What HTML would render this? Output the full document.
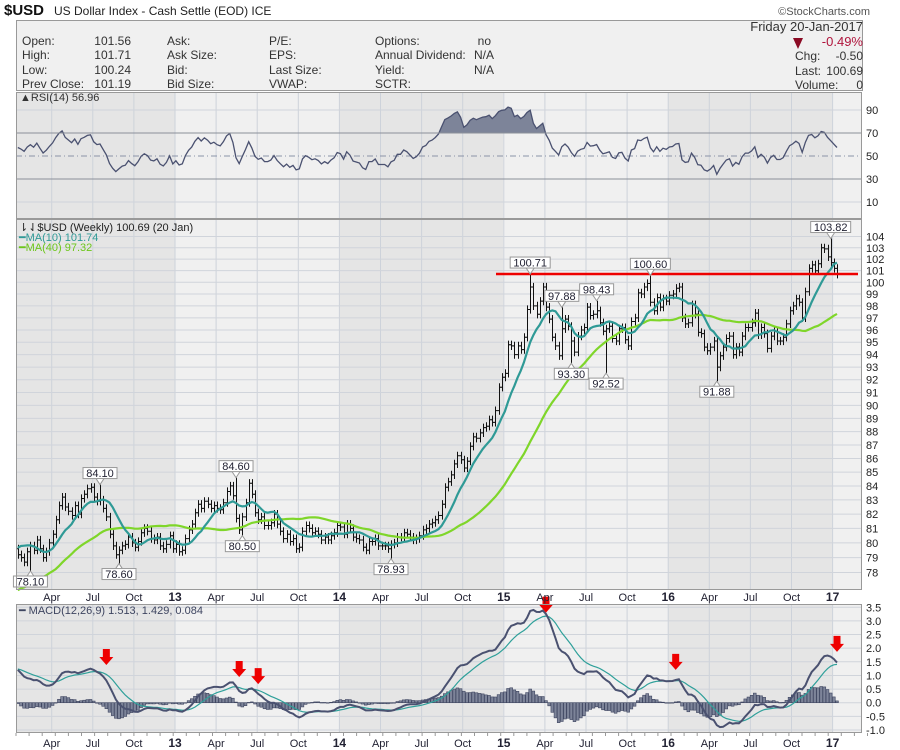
<!DOCTYPE html>
<html><head><meta charset="utf-8"><title>$USD US Dollar Index – weekly chart with RSI and MACD</title>
<style>
html,body{margin:0;padding:0;background:#fff;}
svg{display:block;font-family:"Liberation Sans Narrow","Liberation Sans",sans-serif;}
</style></head>
<body>
<svg id="chart" width="900" height="750" viewBox="0 0 900 750" xmlns="http://www.w3.org/2000/svg">
<g font-size="12" fill="#333">
  <text x="4" y="15" font-size="15" font-weight="bold" fill="#111">$USD</text>
  <text x="54" y="15" font-size="12" fill="#222">US Dollar Index - Cash Settle (EOD) ICE</text>
  <text x="870" y="15" font-size="11" fill="#555" text-anchor="end">©StockCharts.com</text>
  <rect x="16.5" y="20.5" width="846" height="70" fill="#f0f0f0" stroke="#999"/>
  <text x="22" y="45">Open:</text><text x="131" y="45" text-anchor="end">101.56</text>
  <text x="22" y="59">High:</text><text x="131" y="59" text-anchor="end">101.71</text>
  <text x="22" y="74">Low:</text><text x="131" y="74" text-anchor="end">100.24</text>
  <text x="22" y="88">Prev Close:</text><text x="131" y="88" text-anchor="end">101.19</text>
  <text x="167" y="45">Ask:</text>
  <text x="167" y="59">Ask Size:</text>
  <text x="167" y="74">Bid:</text>
  <text x="167" y="88">Bid Size:</text>
  <text x="269" y="45">P/E:</text>
  <text x="269" y="59">EPS:</text>
  <text x="269" y="74">Last Size:</text>
  <text x="269" y="88">VWAP:</text>
  <text x="375" y="45">Options:</text><text x="491" y="45" text-anchor="end">no</text>
  <text x="375" y="59">Annual Dividend:</text><text x="474" y="59">N/A</text>
  <text x="375" y="74">Yield:</text><text x="474" y="74">N/A</text>
  <text x="375" y="88">SCTR:</text>
  <text x="863" y="31" text-anchor="end" font-size="13">Friday  20-Jan-2017</text>
  <path d="M793,38 L803,38 L798,49 Z" fill="#8b0a24"/>
  <text x="863" y="46" text-anchor="end" font-size="13" fill="#b0143c">-0.49%</text>
  <text x="795" y="60">Chg:</text><text x="863" y="60" text-anchor="end">-0.50</text>
  <text x="795" y="75">Last:</text><text x="863" y="75" text-anchor="end">100.69</text>
  <text x="795" y="89">Volume:</text><text x="863" y="89" text-anchor="end">0</text>
</g>
<g id="layers"></g>
</svg>
<script>
// ---- data (weekly closes; first 39 values are pre-chart warm-up weeks) ----
const warmupCloses = [73.0,74.5,75.5,75.7,75.5,74.8,74.3,75.0,75.2,74.6,74.3,75.5,75.9,74.6,74.0,74.5,74.5,74.0,74.1,74.6,76.5,77.5,78.5,78.5,78.2,77.1,76.3,77.2,77.9,78.4,79.2,77.8,78.5,79.2,79.8,80.2,81.2,81.0,80.2];
const closes2012 = [79.6,79.2,79.0,78.7,79.4,79.8,79.5,80.2,79.6,79.0,79.4,80.0,80.6,81.6,82.6,83.2,82.5,82.2,81.9,82.6,82.0,83.1,83.4,83.8,83.9,83.2,82.9,83.0,82.4,81.8,80.6,79.8,79.2,79.5,79.8,79.9,80.4,80.0,79.7,80.1,80.7,81.0,80.8,80.3,80.2,80.4,79.8,79.6,79.9];
const closes2013 = [80.5,79.6,79.9,79.4,79.5,80.3,80.9,81.3,82.1,82.7,82.4,82.9,82.7,82.4,82.6,82.4,82.3,82.8,83.6,84.0,83.3,81.7,80.9,81.8,82.8,84.2,83.4,82.1,81.6,81.8,81.2,81.2,81.4,82.0,81.3,80.8,80.3,80.6,80.1,80.3,79.6,79.7,80.8,81.2,81.0,80.7,80.8,80.6,80.2,80.4,80.2,80.5];
const closes2014 = [80.7,81.2,81.1,80.6,81.3,81.0,80.4,80.3,80.2,79.7,79.5,80.1,80.1,80.3,79.8,79.8,79.8,79.6,79.9,80.0,80.4,80.4,80.7,80.6,80.4,80.2,80.3,80.5,80.9,81.0,81.3,81.4,81.6,81.9,82.7,83.9,84.3,84.8,85.6,86.2,85.9,85.3,85.8,86.9,87.6,87.5,87.9,88.3,88.4,88.9,88.7,89.6];
const closes2015 = [91.4,92.2,92.5,94.8,94.7,94.0,94.7,94.4,95.4,97.7,99.6,98.0,97.3,98.4,99.6,97.9,96.9,95.4,94.7,93.9,96.1,96.9,96.3,95.1,94.2,95.5,96.0,96.2,97.9,97.2,97.3,97.6,96.6,95.9,96.1,96.3,95.3,95.1,96.1,96.2,95.2,94.7,96.7,97.0,99.1,99.0,99.6,99.9,98.3,97.6,98.7,97.9,98.6];
const closes2016 = [98.4,98.9,99.0,99.5,99.6,97.0,96.5,96.6,98.1,97.3,95.8,95.7,94.6,94.3,94.6,95.1,93.0,93.9,94.6,95.3,95.5,94.0,94.6,94.2,95.5,96.2,96.2,96.6,97.4,95.6,96.2,95.7,94.5,95.5,95.9,95.1,95.1,95.4,96.5,97.6,98.0,98.6,98.3,97.0,99.2,101.2,101.5,101.0,101.6,103.0,102.9,102.2];
const closes2017 = [101.7,101.2,100.69];
// annotated extremes: visible bar index, value, side
const annIndex = [5,27,33,70,72,119,163,173,176,184,187,201,222,258];
const annValue = [78.10,84.10,78.60,84.60,80.50,78.93,100.71,97.88,93.30,98.43,92.52,100.60,91.88,103.82];
const annHigh  = [0,1,0,1,0,0,1,1,0,1,0,1,0,1];
const resistanceLevel = 100.71;
const priceTicks = [78,79,80,81,82,83,84,85,86,87,88,89,90,91,92,93,94,95,96,97,98,99,100,101,102,103,104];
const rsiTicks = [90,70,50,30,10];
const macdTicks = [3.5,3.0,2.5,2.0,1.5,1.0,0.5,0.0,-0.5,-1.0];
const dateTickLabels = ['Apr','Jul','Oct','13','Apr','Jul','Oct','14','Apr','Jul','Oct','15','Apr','Jul','Oct','16','Apr','Jul','Oct','17'];
const dateTickYears  = [2012.25,2012.5,2012.75,2013,2013.25,2013.5,2013.75,2014,2014.25,2014.5,2014.75,2015,2015.25,2015.5,2015.75,2016,2016.25,2016.5,2016.75,2017];
const arrowBars = [29,71,77,168,209,260];
const arrowMacd = [0.87,0.43,0.17,2.79,0.69,1.35];

// ---- build series ----
const visible = [].concat(closes2012,closes2013,closes2014,closes2015,closes2016,closes2017);
const all = warmupCloses.concat(visible);
const W0 = warmupCloses.length, N = visible.length;

const NS='http://www.w3.org/2000/svg';
const root=document.getElementById('layers');
function mk(tag,attrs,parent){const e=document.createElementNS(NS,tag);for(const k in attrs)e.setAttribute(k,attrs[k]);(parent||root).appendChild(e);return e;}

// axes
const L=16, R=862;
const xBar=i=>837-(N-1-i)*3.163;
const xDate=fy=>175+(fy-2013)*164.4;
const yP=v=>282.3-1168*Math.log(v/100);
const yR=v=>156-(v-50)*1.15;
const yM=v=>702.7-27.26*v;

function sma(n){return all.map((_,i)=>{const s=Math.max(0,i-n+1);let t=0;for(let k=s;k<=i;k++)t+=all[k];return t/(i-s+1);});}
function ema(arr,n){const a=2/(n+1);const o=[];arr.forEach((v,i)=>o.push(i?o[i-1]+a*(v-o[i-1]):v));return o;}
const ma10=sma(10), ma40=sma(40);
const rsi=[];{let g=0,l=0;for(let i=0;i<all.length;i++){if(i==0){rsi.push(50);continue;}const d=all[i]-all[i-1];const up=Math.max(d,0),dn=Math.max(-d,0);if(i<=14){g+=up/14;l+=dn/14;}else{g=(g*13+up)/14;l=(l*13+dn)/14;}rsi.push(l==0?100:100-100/(1+g/l));}}
const e12=ema(all,12),e26=ema(all,26);const macd=all.map((v,i)=>e12[i]-e26[i]);const sig=ema(macd,9);const hist=macd.map((v,i)=>v-sig[i]);

// ---- panels ----
const panels=[{n:'rsi-panel',t:92,b:219},{n:'price-panel',t:219,b:590},{n:'macd-panel',t:604,b:733}];
const bands=[[L,175,'#e5e5e5'],[175,339,'#f0f0f0'],[339,503,'#e5e5e5'],[503,668,'#f0f0f0'],[668,832,'#e5e5e5'],[832,R,'#f0f0f0']];
panels.forEach(p=>{
  const g=mk('g',{});
  
  
  bands.forEach(b=>mk('rect',{x:b[0],y:p.t,width:b[1]-b[0],height:p.b-p.t,fill:b[2]},g));
  dateTickYears.forEach(fy=>{const x=xDate(fy);if(x>L&&x<R)mk('line',{x1:x,x2:x,y1:p.t,y2:p.b,stroke:'#cdd2da','stroke-width':1},g);});
  p.g=g;
});
// price grid
priceTicks.forEach(v=>{const y=yP(v);mk('line',{x1:L,x2:R,y1:y,y2:y,stroke:'#d0d4db'},panels[1].g);
  const t=mk('text',{x:866,y:y+4,'font-size':11,fill:'#222'});t.textContent=v;
  
  });
// rsi grid
rsiTicks.forEach(v=>{const y=yR(v);const strong=(v==70||v==30);
  mk('line',{x1:L,x2:R,y1:y,y2:y,stroke:strong?'#8a8f99':(v==50?'#8a93a8':'#d0d4db'),'stroke-dasharray':v==50?'6,3,1,3':'none'},panels[0].g);
  const t=mk('text',{x:866,y:y+4,'font-size':11,fill:'#222'});t.textContent=v;
  
  });
// macd grid
macdTicks.forEach(v=>{const y=yM(v);mk('line',{x1:L,x2:R,y1:y,y2:y,stroke:'#d0d4db'},panels[2].g);
  const t=mk('text',{x:866,y:y+4,'font-size':11,fill:'#222'});t.textContent=v.toFixed(1);
  
  });

function poly(arr,fy,attrs,name,parent){let d='';for(let i=0;i<N;i++){const x=xBar(i);if(x<L)continue;d+=(d?'L':'M')+x.toFixed(1)+','+fy(arr[i+W0]).toFixed(1);}
  const p=mk('path',Object.assign({d:d,fill:'none'},attrs),parent);return p;}

// RSI fill above 70 and line
{let d='';for(let i=0;i<N;i++){const x=xBar(i);if(x<L)continue;d+=(d?'L':'M')+x.toFixed(1)+','+Math.min(yR(rsi[i+W0]),yR(70)).toFixed(1);}
 d+='L'+xBar(N-1)+','+yR(70)+'L'+Math.max(L,xBar(0))+','+yR(70)+'Z';
 const f=mk('path',{d:d,fill:'#7d8499',stroke:'none'},panels[0].g);
 
 }
poly(rsi,yR,{stroke:'#4a5170','stroke-width':1.3},'rsi-line',panels[0].g);
mk('line',{x1:L,x2:R,y1:yR(70),y2:yR(70),stroke:'#8a8f99'},panels[0].g);

// price bars
const barsG=mk('g',{stroke:'#111','stroke-width':1},panels[1].g);


for(let i=0;i<N;i++){const x=Math.round(xBar(i))+0.5;if(x<L)continue;const c=all[i+W0],o=all[i+W0-1];
  let h=Math.max(o,c)*1.0035,l=Math.min(o,c)*0.9965;const a=annIndex.indexOf(i);if(a>=0){if(annHigh[a])h=annValue[a];else l=annValue[a];}
  const b=mk('path',{d:`M${x},${yP(h).toFixed(1)}V${yP(l).toFixed(1)}M${x-2},${yP(o).toFixed(1)}H${x}M${x},${yP(c).toFixed(1)}H${x+2}`},barsG);
  
  }
poly(ma40,yP,{stroke:'#7fd62a','stroke-width':2.2},'ma40-line',panels[1].g);
poly(ma10,yP,{stroke:'#2f9a96','stroke-width':2.2},'ma10-line',panels[1].g);
{const rl=mk('line',{x1:496,x2:858,y1:yP(resistanceLevel),y2:yP(resistanceLevel),stroke:'#ee0000','stroke-width':2.5},panels[1].g);
 
 }
// annotations
annIndex.forEach((bi,k)=>{const x=xBar(bi),v=annValue[k],up=annHigh[k];const yv=yP(v);const txt=v.toFixed(2);const w=txt.length*6+4;
  const g=mk('g',{},panels[1].g);
  
  
  const by=up?yv-16:yv+6;
  mk('path',{d:up?`M${x-4},${by+10}L${x},${yv}L${x+4},${by+10}`:`M${x-4},${by}L${x},${yv}L${x+4},${by}`,fill:'#fff',stroke:'#999'},g);
  mk('rect',{x:x-w/2,y:by-1,width:w,height:11,fill:'#fff',stroke:'#999'},g);
  const t=mk('text',{x:x,y:by+8.5,'font-size':11,'text-anchor':'middle',fill:'#223'},g);t.textContent=txt;});

// MACD histogram & lines
const hG=mk('g',{fill:'#7d8499',stroke:'#3e4560','stroke-width':0.6},panels[2].g);


for(let i=0;i<N;i++){const x=xBar(i);if(x<L)continue;const v=hist[i+W0];const y0=yM(0),y1=yM(v);
  const r=mk('rect',{x:x-1.4,y:Math.min(y0,y1),width:2.8,height:Math.max(0.5,Math.abs(y1-y0))},hG);
  
  }
poly(sig,yM,{stroke:'#2fa09a','stroke-width':1.2},'macd-signal-line',panels[2].g);
poly(macd,yM,{stroke:'#4a5170','stroke-width':2},'macd-line',panels[2].g);
arrowBars.forEach((bi,k)=>{const x=xBar(Math.min(bi,N-1))+(bi>N-1?3:0),yt=yM(arrowMacd[k])-30;
  const a=mk('path',{d:`M${x-3.5},${yt}H${x+3.5}V${yt+8}H${x+7}L${x},${yt+16}L${x-7},${yt+8}H${x-3.5}Z`,fill:'#ee0000'},panels[2].g);
  
  });

// panel borders
panels.forEach(p=>mk('rect',{x:L+0.5,y:p.t+0.5,width:R-L-1,height:p.b-p.t-1,fill:'none',stroke:'#999'},p.g));

// date axes
[597,743].forEach((yy,ai)=>{const g=mk('g',{'font-size':11,fill:'#223','text-anchor':'middle'});
  
  
  dateTickLabels.forEach((lab,k)=>{const x=xDate(dateTickYears[k]);const bold=/^\d/.test(lab);
    const t=mk('text',{x:x,y:yy+4,'font-weight':bold?'bold':'normal','font-size':bold?12:11},g);t.textContent=lab;});});
{const tk=mk('path',{d:Array.from({length:66},(_,k)=>`M${L+k*13.1},733V736`).join(''),stroke:'#999'});
 
 }

// legends
function label(x,y,txt,fill,name){const t=mk('text',{x:x,y:y,'font-size':11,fill:fill});t.textContent=txt;return t;}
label(20,101,'▲RSI(14) 56.96','#333','rsi-legend');
label(19,231,'⇂⇃$USD (Weekly) 100.69 (20 Jan)','#222','price-legend');
label(19,241,'━MA(10) 101.74','#2f9a96','ma10-legend');
label(19,251,'━MA(40) 97.32','#6cc61a','ma40-legend');
label(19,614,'━ MACD(12,26,9) 1.513, 1.429, 0.084','#3e4560','macd-legend');
</script>
</body></html>
